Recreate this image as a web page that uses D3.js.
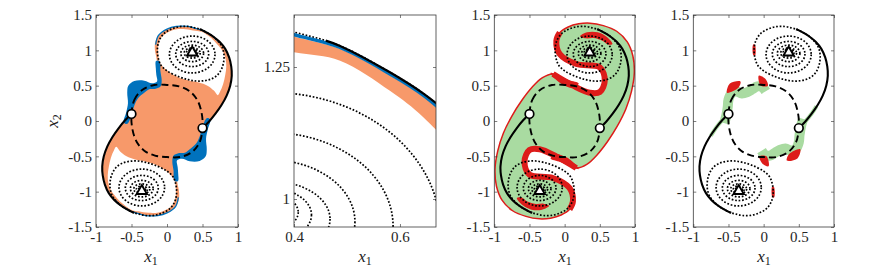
<!DOCTYPE html>
<html>
<head>
<meta charset="utf-8">
<script src="https://cdn.jsdelivr.net/npm/d3@7"></script>
<style>
  body { margin: 0; background: #fff; }
  svg { display: block; }
</style>
</head>
<body>
<div id="chart"></div>
<script>
// ticks
const xTicks = [-1, -0.5, 0, 0.5, 1];
const yTicks = [-1.5, -1, -0.5, 0, 0.5, 1, 1.5];
const zoomXTicks = [0.4, 0.6];
const zoomYTicks = [1, 1.25];

// equilibria
const stableEq = [[0.355, 0.98], [-0.355, -0.98]];
const saddleEq = [[-0.5, 0.1], [0.5, -0.1]];

// dotted level rings around each stable point (centre offset from the point, half axes)
const ringDy = [-0.039, -0.032, -0.023, -0.018, -0.01, -0.005, 0];
const ringRx = [0.321, 0.232, 0.16, 0.113, 0.078, 0.053, 0.03];
const ringRy = [0.261, 0.178, 0.117, 0.072, 0.05, 0.034, 0.02];

// dashed closed orbit round the origin
const cycle = [[-0.5, 0.1], [-0.46, 0.3], [-0.35, 0.44], [-0.18, 0.51], [0, 0.51], [0.17, 0.49], [0.32, 0.42],
  [0.43, 0.29], [0.49, 0.1], [0.5, -0.1], [0.46, -0.3], [0.35, -0.44], [0.18, -0.51], [0, -0.51],
  [-0.17, -0.49], [-0.32, -0.42], [-0.43, -0.29], [-0.49, -0.1]];

// solid manifolds
const manifoldUpper = [[0.46, 1.3], [0.487, 1.29], [0.581, 1.24], [0.645, 1.199], [0.74, 1.12], [0.82, 1.02],
  [0.875, 0.9], [0.905, 0.77], [0.912, 0.64], [0.89, 0.5], [0.84, 0.36], [0.77, 0.23], [0.68, 0.1], [0.59, -0.01], [0.5, -0.1]];
const manifoldLower = [[-0.46, -1.3], [-0.487, -1.29], [-0.581, -1.24], [-0.645, -1.199], [-0.74, -1.12], [-0.82, -1.02],
  [-0.875, -0.9], [-0.905, -0.77], [-0.912, -0.64], [-0.89, -0.5], [-0.84, -0.36], [-0.77, -0.23], [-0.68, -0.1], [-0.59, 0.01], [-0.5, 0.1]];

// outermost dotted orbits
const orbitUpper = [[0.645, 1.199], [0.581, 1.24], [0.487, 1.29], [0.4, 1.316], [0.3, 1.337], [0.18, 1.335], [0.06, 1.3],
  [-0.04, 1.24], [-0.11, 1.14], [-0.135, 1.02], [-0.125, 0.9], [-0.085, 0.79], [0.0, 0.71], [0.17, 0.625], [0.3, 0.585],
  [0.41, 0.566], [0.52, 0.57], [0.62, 0.594], [0.71, 0.65], [0.77, 0.74], [0.8, 0.85], [0.8, 0.96], [0.77, 1.06], [0.71, 1.14]];
const orbitLower = [[-0.645, -1.199], [-0.581, -1.24], [-0.487, -1.29], [-0.4, -1.316], [-0.3, -1.337], [-0.18, -1.335], [-0.06, -1.3],
  [0.04, -1.24], [0.11, -1.14], [0.135, -1.02], [0.125, -0.9], [0.085, -0.79], [0.0, -0.71], [-0.17, -0.625], [-0.3, -0.585],
  [-0.41, -0.566], [-0.52, -0.57], [-0.62, -0.594], [-0.71, -0.65], [-0.77, -0.74], [-0.8, -0.85], [-0.8, -0.96], [-0.77, -1.06], [-0.71, -1.14]];

// panel 1 / 2 regions
const orangeRegion = [[-0.12, 0.56], [-0.125, 0.7], [-0.135, 0.8], [-0.15, 0.9], [-0.17, 1.0], [-0.165, 1.12], [-0.11, 1.225],
  [0.0, 1.3], [0.13, 1.337], [0.28, 1.343], [0.4, 1.308], [0.487, 1.284], [0.581, 1.234], [0.645, 1.193], [0.735, 1.113],
  [0.813, 1.013], [0.866, 0.895], [0.895, 0.77], [0.902, 0.64], [0.882, 0.5], [0.832, 0.36], [0.762, 0.23], [0.672, 0.1], [0.585, -0.005],
  [0.55, -0.12], [0.52, -0.24], [0.52, -0.36], [0.5, -0.47], [0.42, -0.53], [0.3, -0.53], [0.2, -0.5], [0.12, -0.52],
  [0.12, -0.56], [0.125, -0.7], [0.135, -0.8], [0.15, -0.9], [0.17, -1.0], [0.165, -1.12], [0.11, -1.225],
  [0.0, -1.3], [-0.13, -1.337], [-0.28, -1.343], [-0.4, -1.308], [-0.487, -1.284], [-0.581, -1.234], [-0.645, -1.193], [-0.735, -1.113],
  [-0.813, -1.013], [-0.866, -0.895], [-0.895, -0.77], [-0.902, -0.64], [-0.882, -0.5], [-0.832, -0.36], [-0.762, -0.23], [-0.672, -0.1], [-0.585, 0.005],
  [-0.55, 0.12], [-0.52, 0.24], [-0.52, 0.36], [-0.5, 0.47], [-0.42, 0.53], [-0.3, 0.53], [-0.2, 0.5], [-0.12, 0.52]];
const blueUpperLeft = [[-0.61, -0.02], [-0.575, 0.12], [-0.55, 0.25], [-0.56, 0.4], [-0.545, 0.5], [-0.46, 0.565], [-0.32, 0.57],
  [-0.21, 0.535], [-0.14, 0.56], [-0.15, 0.65], [-0.158, 0.75], [-0.155, 0.85],
  [-0.105, 0.85], [-0.092, 0.7], [-0.075, 0.58], [-0.09, 0.49], [-0.16, 0.455], [-0.25, 0.45], [-0.32, 0.4],
  [-0.41, 0.32], [-0.46, 0.22], [-0.495, 0.1], [-0.56, -0.04]];
const blueLowerRight = [[0.61, 0.02], [0.575, -0.12], [0.55, -0.25], [0.56, -0.4], [0.545, -0.5], [0.46, -0.565], [0.32, -0.57],
  [0.21, -0.535], [0.14, -0.56], [0.15, -0.65], [0.158, -0.75], [0.155, -0.85],
  [0.105, -0.85], [0.092, -0.7], [0.075, -0.58], [0.09, -0.49], [0.16, -0.455], [0.25, -0.45], [0.32, -0.4],
  [0.41, -0.32], [0.46, -0.22], [0.495, -0.1], [0.56, 0.04]];
// thin blue rim along the outer edge of each lobe
const blueTopEdge = [[-0.16, 1.08], [-0.12, 1.21], [0.0, 1.3], [0.13, 1.338], [0.3, 1.338], [0.4, 1.311], [0.487, 1.287],
  [0.581, 1.237], [0.645, 1.196], [0.735, 1.117]];
const blueBottomEdge = [[0.16, -1.08], [0.12, -1.21], [0.0, -1.3], [-0.13, -1.338], [-0.3, -1.338], [-0.4, -1.311], [-0.487, -1.287],
  [-0.581, -1.237], [-0.645, -1.196], [-0.735, -1.117]];
const holeUpper = [[0.4, 1.278], [0.487, 1.262], [0.581, 1.205], [0.644, 1.155], [0.73, 1.06], [0.79, 0.98], [0.825, 0.88],
  [0.835, 0.77], [0.82, 0.65], [0.79, 0.52], [0.745, 0.41], [0.715, 0.365], [0.66, 0.43], [0.57, 0.5], [0.45, 0.545],
  [0.32, 0.57], [0.17, 0.615], [0.05, 0.68], [-0.05, 0.76], [-0.11, 0.86], [-0.125, 0.98], [-0.12, 1.08], [-0.08, 1.18],
  [0.0, 1.25], [0.12, 1.295], [0.26, 1.3]];
const holeLower = [[-0.4, -1.278], [-0.487, -1.262], [-0.581, -1.205], [-0.644, -1.155], [-0.73, -1.06], [-0.79, -0.98], [-0.825, -0.88],
  [-0.835, -0.77], [-0.82, -0.65], [-0.79, -0.52], [-0.745, -0.41], [-0.715, -0.365], [-0.66, -0.43], [-0.57, -0.5], [-0.45, -0.545],
  [-0.32, -0.57], [-0.17, -0.615], [-0.05, -0.68], [0.05, -0.76], [0.11, -0.86], [0.125, -0.98], [0.12, -1.08], [0.08, -1.18],
  [0.0, -1.25], [-0.12, -1.295], [-0.26, -1.3]];

// panel 3 regions
const greenRegion = [[-0.118, 1.137], [-0.07, 1.25], [0.05, 1.33], [0.2, 1.375], [0.36, 1.385], [0.55, 1.35], [0.74, 1.27],
  [0.89, 1.12], [0.97, 0.92], [0.99, 0.68], [0.95, 0.42], [0.87, 0.17], [0.75, -0.07], [0.61, -0.29], [0.46, -0.48],
  [0.32, -0.61], [0.165, -0.665], [-0.12, -0.5], [-0.356, -0.4], [-0.5, -0.41], [-0.57, -0.57], [-0.5, -0.759],
  [-0.167, -0.806], [0.07, -0.948], [0.118, -1.137], [0.07, -1.25], [-0.05, -1.33], [-0.2, -1.375], [-0.36, -1.385],
  [-0.55, -1.35], [-0.74, -1.27], [-0.89, -1.12], [-0.97, -0.92], [-0.99, -0.68], [-0.95, -0.42], [-0.87, -0.17],
  [-0.75, 0.07], [-0.61, 0.29], [-0.46, 0.48], [-0.32, 0.61], [-0.165, 0.665], [0.12, 0.5], [0.356, 0.4], [0.5, 0.41],
  [0.57, 0.57], [0.5, 0.759], [0.167, 0.806], [-0.07, 0.948]];
const redNotchUpper = [[-0.165, 0.665], [0.12, 0.5], [0.356, 0.4], [0.5, 0.41], [0.57, 0.57], [0.5, 0.759], [0.167, 0.806],
  [-0.07, 0.948], [-0.118, 1.137], [-0.07, 1.25]];
const redNotchLower = [[0.165, -0.665], [-0.12, -0.5], [-0.356, -0.4], [-0.5, -0.41], [-0.57, -0.57], [-0.5, -0.759], [-0.167, -0.806],
  [0.07, -0.948], [0.118, -1.137], [0.07, -1.25]];
const redWedgeUpper = [[-0.2, 0.68], [-0.08, 0.64], [0.06, 0.58], [0.2, 0.53], [0.12, 0.47], [-0.02, 0.51], [-0.14, 0.6]];
const redWedgeLower = [[0.2, -0.68], [0.08, -0.64], [-0.06, -0.58], [-0.2, -0.53], [-0.12, -0.47], [0.02, -0.51], [0.14, -0.6]];
const redCrescentUpper = [[0.22, 1.2], [0.32, 1.255], [0.47, 1.255], [0.6, 1.19], [0.68, 1.09], [0.62, 1.08], [0.53, 1.14],
  [0.41, 1.175], [0.3, 1.17]];
const redCrescentLower = [[-0.22, -1.2], [-0.32, -1.255], [-0.47, -1.255], [-0.6, -1.19], [-0.68, -1.09], [-0.62, -1.08], [-0.53, -1.14],
  [-0.41, -1.175], [-0.3, -1.17]];

// panel 4 regions
const greenBandUL = [[-0.56, -0.03], [-0.53, 0.08], [-0.51, 0.2], [-0.5, 0.3], [-0.46, 0.39], [-0.39, 0.42], [-0.31, 0.39],
  [-0.23, 0.41], [-0.16, 0.45], [-0.09, 0.49], [-0.02, 0.48], [0.03, 0.42]];
const greenBandLR = [[0.56, 0.03], [0.53, -0.08], [0.51, -0.2], [0.5, -0.3], [0.46, -0.39], [0.39, -0.42], [0.31, -0.39],
  [0.23, -0.41], [0.16, -0.45], [0.09, -0.49], [0.02, -0.48], [-0.03, -0.42]];
const greenStripR = [[0.5, -0.1], [0.59, -0.01], [0.68, 0.1], [0.75, 0.21]];
const greenStripL = [[-0.5, 0.1], [-0.59, 0.01], [-0.68, -0.1], [-0.75, -0.21]];
const redBitA = [[-0.52, 0.4], [-0.48, 0.53], [-0.33, 0.56], [-0.36, 0.47]];
const redBitB = [[-0.07, 0.64], [0.02, 0.6], [0.06, 0.5], [-0.04, 0.5]];
const redBitC = [[0.52, -0.4], [0.48, -0.53], [0.33, -0.56], [0.36, -0.47]];
const redBitD = [[0.07, -0.64], [-0.02, -0.6], [-0.06, -0.5], [0.04, -0.5]];
const redBitE = [[-0.15, 1.08], [-0.125, 1.08], [-0.12, 0.93], [-0.145, 0.93]];
const redBitF = [[0.15, -1.08], [0.125, -1.08], [0.12, -0.93], [0.145, -0.93]];

const ORANGE = "#F7996A", BLUE = "#0072BD", GREEN = "#A9DBA1", RED = "#DD1C1A";
const FONT = "'Liberation Serif', 'Times New Roman', serif";

var W = 888, H = 267, top0 = 15, bot0 = 227;
var svg = d3.select("#chart").append("svg").attr("width", W).attr("height", H);
var defs = svg.append("defs");

function makePanel(id, x0, x1, xDom, yDom) {
    var x = d3.scaleLinear().domain(xDom).range([x0, x1]);
    var y = d3.scaleLinear().domain(yDom).range([bot0, top0]);
    defs.append("clipPath").attr("id", id).append("rect")
        .attr("x", x0).attr("y", top0).attr("width", x1 - x0).attr("height", bot0 - top0);
    var g = svg.append("g");
    var plot = g.append("g").attr("clip-path", `url(#${id})`);
    return {x: x, y: y, g: g, plot: plot};
}

function closed(p) {
    return d3.line().x(d => p.x(d[0])).y(d => p.y(d[1])).curve(d3.curveCatmullRomClosed.alpha(0.5));
}
function open(p) {
    return d3.line().x(d => p.x(d[0])).y(d => p.y(d[1])).curve(d3.curveCatmullRom.alpha(0.5));
}
function fillArea(p, pts, color) {
    p.plot.append("path").attr("d", closed(p)(pts)).attr("fill", color);
}
function strokeLine(p, pts, color, w) {
    p.plot.append("path").attr("d", open(p)(pts)).attr("fill", "none")
        .attr("stroke", color).attr("stroke-width", w).attr("stroke-linejoin", "round");
}

function drawOrbits(p) {
    stableEq.forEach((c, k) => {
        var s = k === 0 ? 1 : -1;
        p.plot.selectAll(null).data(ringRx).enter().append("ellipse")
            .attr("cx", p.x(c[0]))
            .attr("cy", (d, i) => p.y(c[1] + s * ringDy[i]))
            .attr("rx", d => Math.abs(p.x(c[0] + d) - p.x(c[0])))
            .attr("ry", (d, i) => Math.abs(p.y(c[1] + ringRy[i]) - p.y(c[1])))
            .attr("fill", "none").attr("stroke", "#000").attr("stroke-width", 1.7)
            .attr("stroke-dasharray", "1.7,1.8");
    });
    [orbitUpper, orbitLower].forEach(o => {
        p.plot.append("path").attr("d", closed(p)(o)).attr("fill", "none")
            .attr("stroke", "#000").attr("stroke-width", 1.7).attr("stroke-dasharray", "1.7,1.8");
    });
}

function drawCycle(p) {
    p.plot.append("path").attr("d", closed(p)(cycle)).attr("fill", "none")
        .attr("stroke", "#000").attr("stroke-width", 1.9).attr("stroke-dasharray", "7,4");
    strokeLine(p, manifoldUpper, "#000", 2.1);
    strokeLine(p, manifoldLower, "#000", 2.1);
}

function drawMarkers(p) {
    p.plot.selectAll(null).data(saddleEq).enter().append("circle")
        .attr("cx", d => p.x(d[0])).attr("cy", d => p.y(d[1])).attr("r", 4.3)
        .attr("fill", "#fff").attr("stroke", "#000").attr("stroke-width", 1.7);
    p.plot.selectAll(null).data(stableEq).enter().append("path")
        .attr("d", d3.symbol().type(d3.symbolTriangle).size(46))
        .attr("transform", d => `translate(${p.x(d[0])},${p.y(d[1]) + 0.8})`)
        .attr("fill", "#fff").attr("stroke", "#000").attr("stroke-width", 1.9);
}

function drawAxes(p, xt, yt) {
    var x = p.x, y = p.y, g = p.g;
    var fmt = d => String(d);
    var style = sel => {
        sel.select(".domain").remove();
        sel.attr("font-family", FONT).attr("font-size", 15);
        sel.selectAll(".tick line").attr("stroke", "#262626").attr("stroke-width", 0.6);
        sel.selectAll("text").style("font-family", FONT).style("font-size", "15px").attr("fill", "#262626");
    };
    g.append("g").attr("transform", `translate(0,${bot0})`)
        .call(d3.axisBottom(x).tickValues(xt).tickSize(-3).tickPadding(4).tickFormat(fmt)).call(style);
    g.append("g").attr("transform", `translate(0,${top0})`)
        .call(d3.axisTop(x).tickValues(xt).tickSize(-3).tickFormat("")).call(style);
    g.append("g").attr("transform", `translate(${x.range()[0]},0)`)
        .call(d3.axisLeft(y).tickValues(yt).tickSize(-3).tickPadding(4).tickFormat(fmt)).call(style);
    g.append("g").attr("transform", `translate(${x.range()[1]},0)`)
        .call(d3.axisRight(y).tickValues(yt).tickSize(-3).tickFormat("")).call(style);
    g.append("rect").attr("x", x.range()[0]).attr("y", top0)
        .attr("width", x.range()[1] - x.range()[0]).attr("height", bot0 - top0)
        .attr("fill", "none").attr("stroke", "#3a3a3a").attr("stroke-width", 0.8);
}

function axisLabel(xpos, ypos, sub, rotate) {
    var t = svg.append("text").attr("x", xpos).attr("y", ypos).attr("text-anchor", "middle")
        .attr("font-family", FONT).style("font-family", FONT).style("font-size", "17px").attr("fill", "#222");
    if (rotate) t.attr("transform", `rotate(-90,${xpos},${ypos})`);
    t.append("tspan").style("font-style", "italic").text("x");
    t.append("tspan").style("font-size", "12px").attr("dy", 3).text(sub);
}

// panel 1: orange / blue
var p1 = makePanel("c1", 96, 238, [-1, 1], [-1.5, 1.5]);
fillArea(p1, orangeRegion, ORANGE);
fillArea(p1, blueUpperLeft, BLUE);
fillArea(p1, blueLowerRight, BLUE);
fillArea(p1, holeUpper, "#fff");
fillArea(p1, holeLower, "#fff");
strokeLine(p1, blueTopEdge, BLUE, 1.3);
strokeLine(p1, blueBottomEdge, BLUE, 1.3);
drawOrbits(p1);
drawCycle(p1);
drawMarkers(p1);
drawAxes(p1, xTicks, yTicks);

// panel 2: zoom on the upper lobe edge
var p2 = makePanel("c2", 294, 436, [0.4, 0.668], [0.947, 1.3485]);
fillArea(p2, orangeRegion, ORANGE);
fillArea(p2, holeUpper, "#fff");
drawOrbits(p2);
strokeLine(p2, blueTopEdge, BLUE, 3.5);
strokeLine(p2, manifoldUpper, "#000", 2.2);
drawAxes(p2, zoomXTicks, zoomYTicks);

// panel 3: green / red
var p3 = makePanel("c3", 494.3, 635, [-1, 1], [-1.5, 1.5]);
p3.plot.append("path").attr("d", closed(p3)(greenRegion)).attr("fill", GREEN)
    .attr("stroke", RED).attr("stroke-width", 1.5);
strokeLine(p3, redNotchUpper, RED, 6);
strokeLine(p3, redNotchLower, RED, 6);
fillArea(p3, redWedgeUpper, RED);
fillArea(p3, redWedgeLower, RED);
fillArea(p3, redCrescentUpper, RED);
fillArea(p3, redCrescentLower, RED);
drawOrbits(p3);
drawCycle(p3);
drawMarkers(p3);
drawAxes(p3, xTicks, yTicks);

// panel 4: thin bands
var p4 = makePanel("c4", 693.3, 834, [-1, 1], [-1.5, 1.5]);
strokeLine(p4, greenBandUL, GREEN, 10);
strokeLine(p4, greenBandLR, GREEN, 10);
strokeLine(p4, greenStripR, GREEN, 4);
strokeLine(p4, greenStripL, GREEN, 4);
[redBitA, redBitB, redBitC, redBitD, redBitE, redBitF].forEach(b => fillArea(p4, b, RED));
drawOrbits(p4);
drawCycle(p4);
drawMarkers(p4);
drawAxes(p4, xTicks, yTicks);

axisLabel(151, 262, "1");
axisLabel(365, 262, "1");
axisLabel(565, 262, "1");
axisLabel(764, 262, "1");
axisLabel(58, 121, "2", true);
</script>
</body>
</html>
